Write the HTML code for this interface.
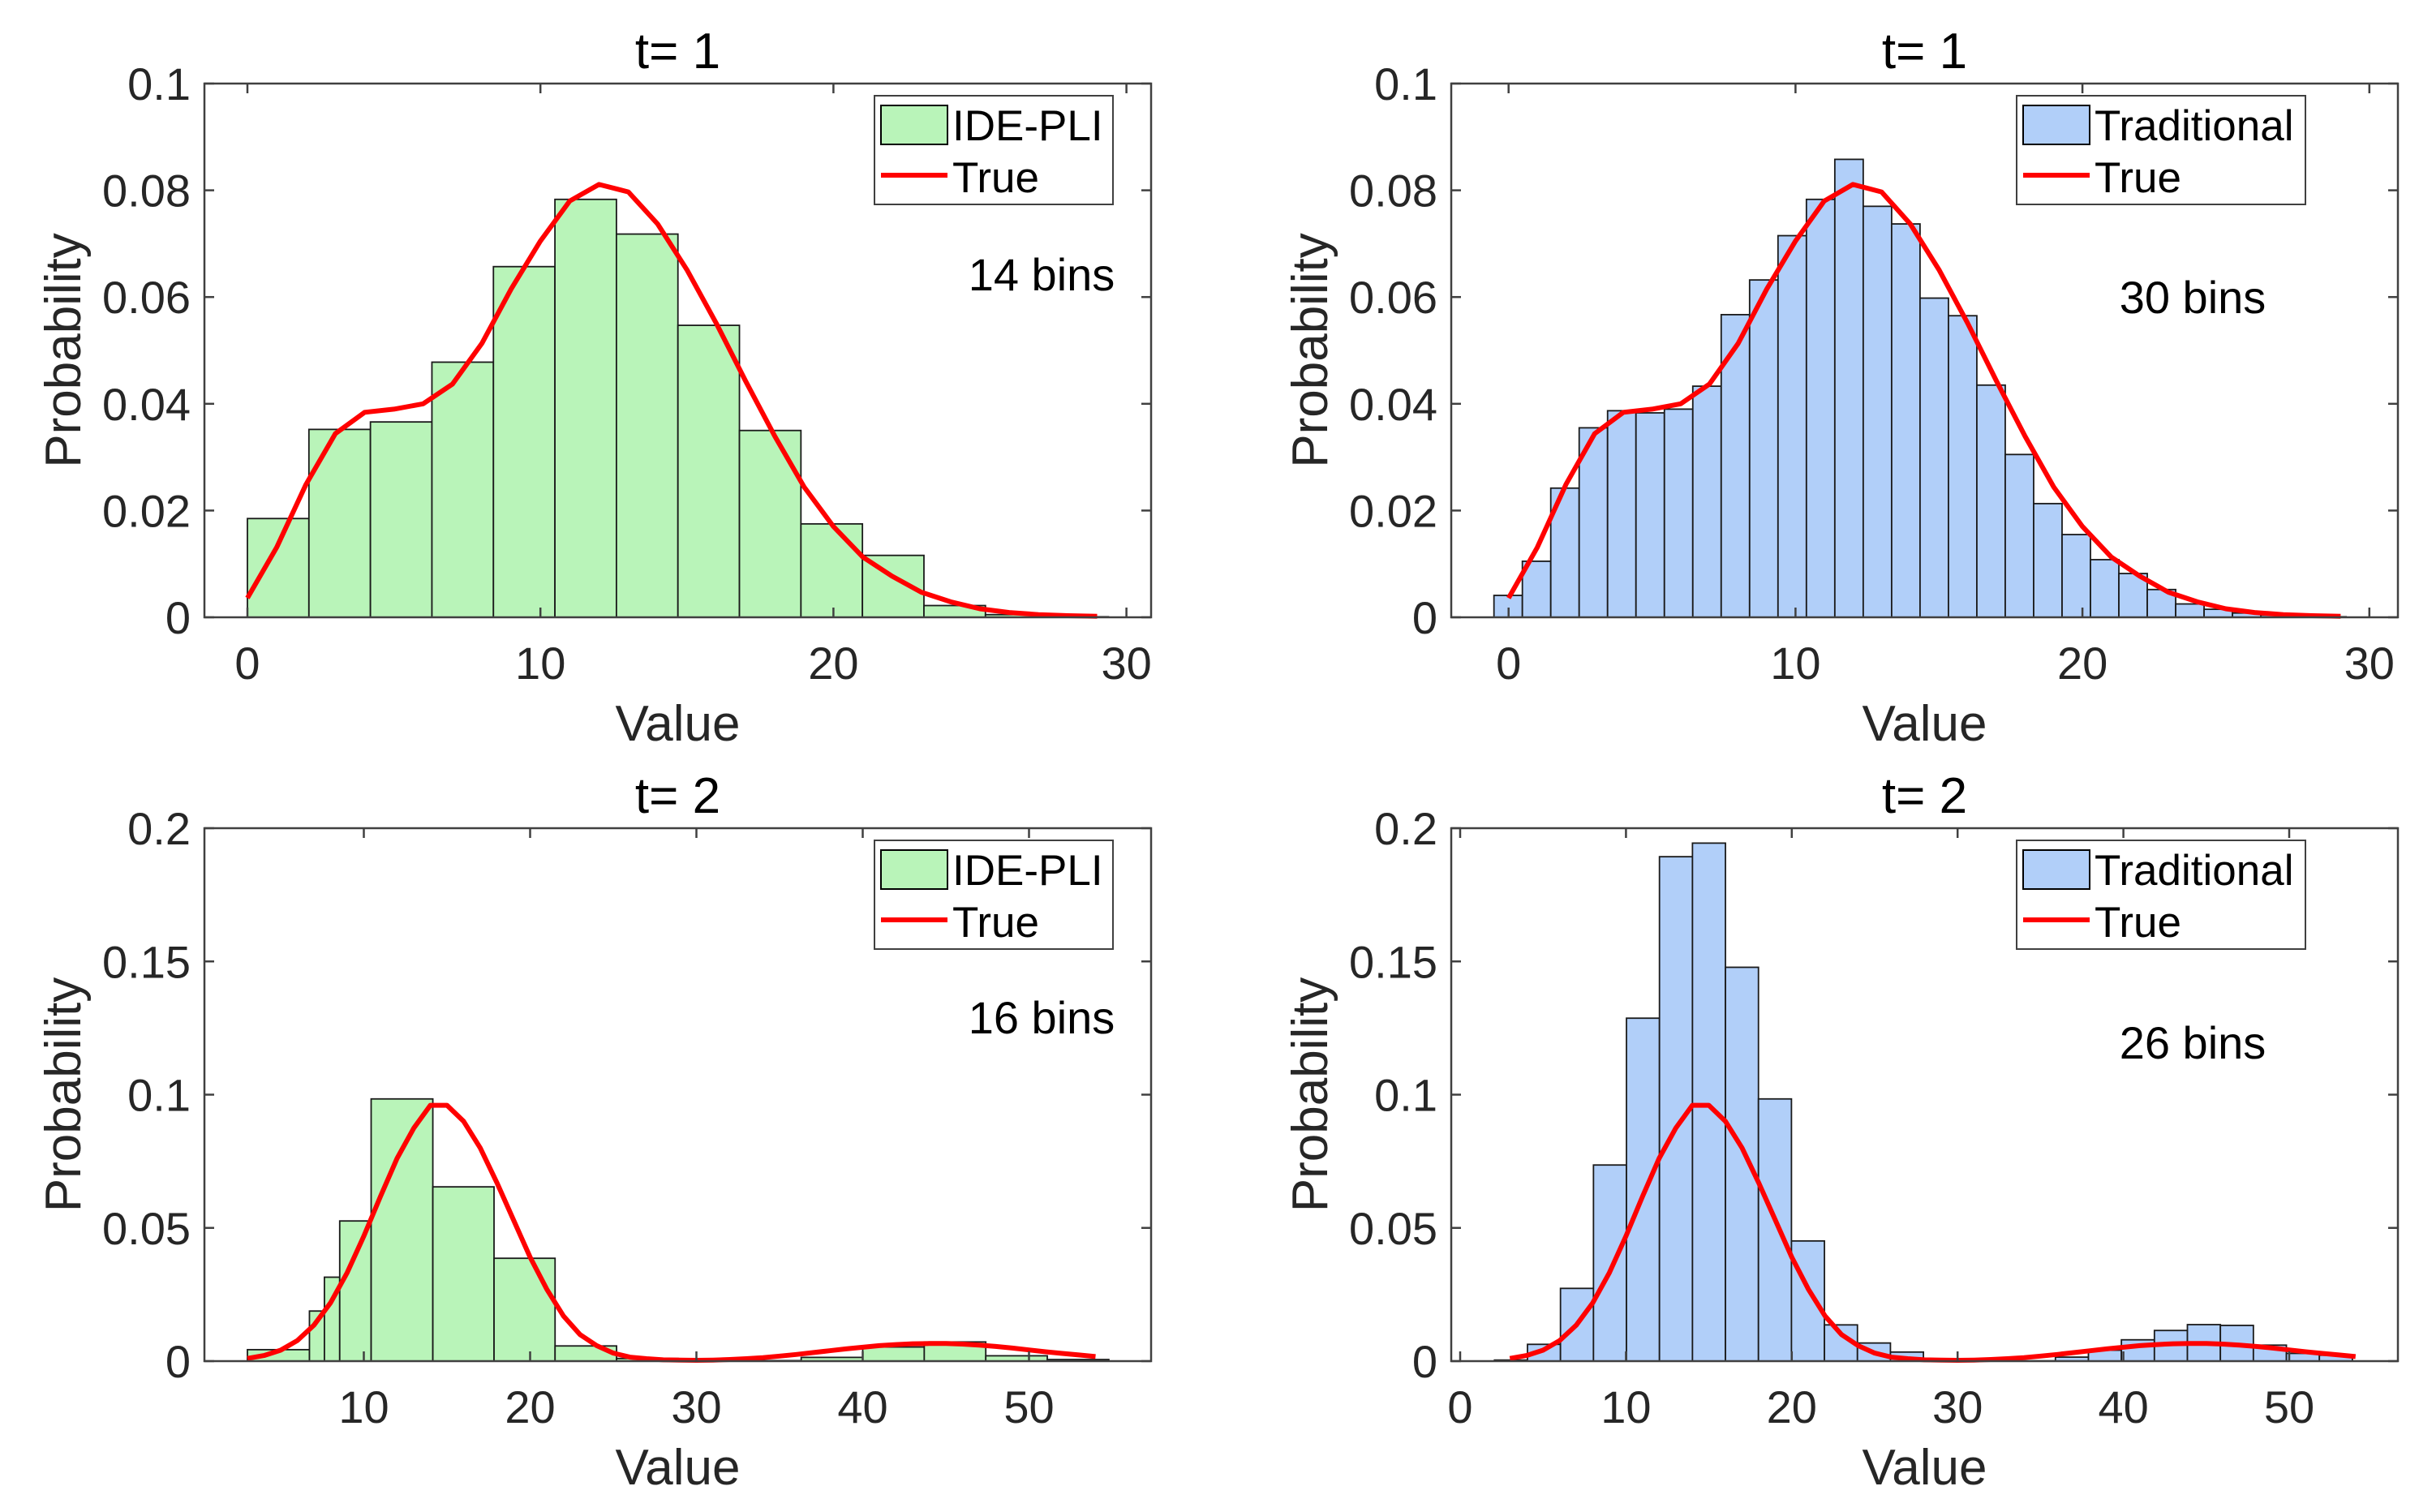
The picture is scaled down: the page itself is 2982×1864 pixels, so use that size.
<!DOCTYPE html>
<html>
<head>
<meta charset="utf-8">
<style>
html,body{margin:0;padding:0;background:#fff;}
svg{display:block;font-family:"Liberation Sans",Arial,sans-serif;}
</style>
</head>
<body>
<svg id="fig" width="2982" height="1864" viewBox="0 0 2982 1864" xmlns="http://www.w3.org/2000/svg"></svg>
<script>
// ---------- data ----------
const tlEdgeStart = 0, tlBinWidth = 2.099;
const tlHeights = [0.0185,0.0352,0.0366,0.0478,0.0657,0.0783,0.0718,0.0547,0.0350,0.0175,0.0116,0.0022,0.0005,0.0001];
const trEdgeStart = -0.51, trBinWidth = 0.99;
const trHeights = [0.0041,0.0105,0.0242,0.0355,0.0387,0.0383,0.0390,0.0433,0.0567,0.0632,0.0715,0.0783,0.0858,0.0770,0.0737,0.0598,0.0565,0.0435,0.0305,0.0213,0.0155,0.0108,0.0082,0.0052,0.0025,0.0015,0.0008,0.0004,0.0002,0.0001];
const blEdges = [3.0,6.73,7.63,8.55,10.44,14.15,17.83,21.5,25.2,28.9,32.6,36.3,40.0,43.7,47.4,51.1,54.8];
const blHeights = [0.0043,0.0188,0.0315,0.0526,0.0984,0.0654,0.0386,0.0057,0.0010,0.0003,0.0002,0.0014,0.0053,0.0072,0.0020,0.0006];
const brEdgeStart = 2.07, brBinWidth = 1.99;
const brHeights = [0.0004,0.0063,0.0273,0.0736,0.1287,0.1893,0.1944,0.1478,0.0984,0.0451,0.0136,0.0068,0.0034,0.0003,0.0001,0.0001,0.0001,0.0015,0.0041,0.0080,0.0115,0.0137,0.0134,0.0060,0.0029,0.0022];
const true1X = [0,1,2,3,4,5,6,7,8,9,10,11,12,13,14,15,16,17,18,19,20,21,22,23,24,25,26,27,28,29];
const true1Y = [0.0036,0.0131,0.0249,0.0344,0.0384,0.0390,0.0400,0.0437,0.0513,0.0615,0.0705,0.0780,0.0811,0.0797,0.0737,0.0651,0.0551,0.0443,0.0339,0.0244,0.0170,0.0113,0.0077,0.0047,0.0029,0.0016,0.0009,0.0005,0.0003,0.0002];
const true2X = [3,4,5,6,7,8,9,10,11,12,13,14,15,16,17,18,19,20,21,22,23,24,25,26,27,28,29,30,31,32,33,34,35,36,37,38,39,40,41,42,43,44,45,46,47,48,49,50,51,52,53,54];
const true2Y = [0.0010,0.0021,0.0041,0.0077,0.0135,0.0219,0.0332,0.0469,0.0618,0.0761,0.0874,0.0960,0.0960,0.0900,0.0800,0.0670,0.0530,0.0390,0.0270,0.0170,0.0100,0.0058,0.0030,0.0015,0.0009,0.0005,0.0004,0.0003,0.0004,0.0006,0.0009,0.0013,0.0019,0.0025,0.0032,0.0039,0.0046,0.0052,0.0058,0.0062,0.0065,0.0066,0.0066,0.0064,0.0060,0.0055,0.0049,0.0042,0.0035,0.0029,0.0023,0.0017];
const yTicks1 = [0,0.02,0.04,0.06,0.08,0.1];
const yTickLabels1 = ["0","0.02","0.04","0.06","0.08","0.1"];
const yTicks2 = [0,0.05,0.1,0.15,0.2];
const yTickLabels2 = ["0","0.05","0.1","0.15","0.2"];
const xTicksTop = [0,10,20,30];
const xTicksBL = [10,20,30,40,50];
const xTicksBR = [0,10,20,30,40,50];

const NS = "http://www.w3.org/2000/svg";
const svg = document.getElementById("fig");
function mk(tag, attrs, parent){
  const e = document.createElementNS(NS, tag);
  for (const k in attrs) e.setAttribute(k, attrs[k]);
  (parent||svg).appendChild(e);
  return e;
}
function edgesFrom(start, w, n){ const a=[]; for(let i=0;i<=n;i++) a.push(start+i*w); return a; }

function panel(cfg){
  const g = mk("g", {});
  
  
  const X = v => cfg.x0 + v*cfg.xs;
  const Y = v => cfg.B - v/cfg.ymax*(cfg.B-cfg.T);
  for (let i=0;i<cfg.heights.length;i++){
    const x1 = X(cfg.edges[i]), x2 = X(cfg.edges[i+1]);
    const r = mk("rect", {x:x1, y:Y(cfg.heights[i]), width:x2-x1, height:cfg.B-Y(cfg.heights[i]), fill:cfg.color, stroke:"#1a1a1a", "stroke-width":1.8}, g);
    
    
  }
  let d = "";
  for (let i=0;i<cfg.lx.length;i++) d += (i?"L":"M")+X(cfg.lx[i]).toFixed(1)+","+Y(cfg.ly[i]).toFixed(1);
  const p = mk("path", {d:d, fill:"none", stroke:"#ff0000", "stroke-width":6, "stroke-linejoin":"round"}, g);
  
  
  const box = mk("rect", {x:cfg.L, y:cfg.T, width:cfg.R-cfg.L, height:cfg.B-cfg.T, fill:"none", stroke:"#404040", "stroke-width":2.5}, g);
  
  
  cfg.xticks.forEach(v=>{
    const x = X(v);
    mk("line",{x1:x,y1:cfg.B,x2:x,y2:cfg.B-12,stroke:"#404040","stroke-width":2.5},g);
    mk("line",{x1:x,y1:cfg.T,x2:x,y2:cfg.T+12,stroke:"#404040","stroke-width":2.5},g);
    const t = mk("text",{x:x,y:cfg.B+76,"font-size":56,"text-anchor":"middle",fill:"#262626"},g);
    t.textContent = String(v);
    
    
  });
  cfg.yticks.forEach((v,i)=>{
    const y = Y(v);
    mk("line",{x1:cfg.L,y1:y,x2:cfg.L+12,y2:y,stroke:"#404040","stroke-width":2.5},g);
    mk("line",{x1:cfg.R,y1:y,x2:cfg.R-12,y2:y,stroke:"#404040","stroke-width":2.5},g);
    const t = mk("text",{x:cfg.L-17,y:y+20,"font-size":56,"text-anchor":"end",fill:"#262626"},g);
    t.textContent = cfg.ylabels[i];
    
    
  });
  const ti = mk("text",{x:(cfg.L+cfg.R)/2,y:cfg.T-19,"font-size":62,"text-anchor":"middle",fill:"#000"},g);
  ti.textContent = cfg.title;
  
  
  const xl = mk("text",{x:(cfg.L+cfg.R)/2,y:cfg.B+152,"font-size":62,"text-anchor":"middle",fill:"#262626"},g);
  xl.textContent = "Value";
  
  
  const cy = (cfg.T+cfg.B)/2, cx = cfg.L-153;
  const yl = mk("text",{x:cx,y:cy,"font-size":62,"text-anchor":"middle",fill:"#262626",transform:"rotate(-90 "+cx+" "+cy+")"},g);
  yl.textContent = "Probability";
  
  
  const lg = mk("g",{},g);
  
  
  const LX = cfg.legX, LY = cfg.T+15;
  mk("rect",{x:LX,y:LY,width:cfg.legW,height:134,fill:"#fff",stroke:"#404040","stroke-width":2},lg);
  mk("rect",{x:LX+8,y:LY+12,width:82,height:48,fill:cfg.color,stroke:"#000","stroke-width":2},lg);
  const lt1 = mk("text",{x:LX+96,y:LY+55,"font-size":53,fill:"#000"},lg);
  lt1.textContent = cfg.legName;
  
  
  mk("line",{x1:LX+8,y1:LY+98,x2:LX+90,y2:LY+98,stroke:"#ff0000","stroke-width":6},lg);
  const lt2 = mk("text",{x:LX+96,y:LY+119,"font-size":53,fill:"#000"},lg);
  lt2.textContent = "True";
  
  
  const an = mk("text",{x:cfg.annX,y:cfg.annY,"font-size":56,"text-anchor":"middle",fill:"#000"},g);
  an.textContent = cfg.ann;
  
  
}

const green = "#b9f4b9", blue = "#b1cff9";
panel({name:"panel-t1-ide-pli",L:252,R:1419,T:103,B:761,x0:305,xs:36.12,ymax:0.1,
  edges:edgesFrom(tlEdgeStart,tlBinWidth,tlHeights.length),heights:tlHeights,color:green,
  lx:true1X,ly:true1Y,xticks:xTicksTop,yticks:yTicks1,ylabels:yTickLabels1,title:"t= 1",
  legX:1078,legW:294,legName:"IDE-PLI",ann:"14 bins",annX:1284,annY:358});
panel({name:"panel-t1-traditional",L:1789,R:2956,T:103,B:761,x0:1859.7,xs:35.37,ymax:0.1,
  edges:edgesFrom(trEdgeStart,trBinWidth,trHeights.length),heights:trHeights,color:blue,
  lx:true1X,ly:true1Y,xticks:xTicksTop,yticks:yTicks1,ylabels:yTickLabels1,title:"t= 1",
  legX:2486,legW:356,legName:"Traditional",ann:"30 bins",annX:2703,annY:386});
panel({name:"panel-t2-ide-pli",L:252,R:1419,T:1021,B:1678,x0:243.5,xs:20.5,ymax:0.2,
  edges:blEdges,heights:blHeights,color:green,
  lx:true2X,ly:true2Y,xticks:xTicksBL,yticks:yTicks2,ylabels:yTickLabels2,title:"t= 2",
  legX:1078,legW:294,legName:"IDE-PLI",ann:"16 bins",annX:1284,annY:1274});
panel({name:"panel-t2-traditional",L:1789,R:2956,T:1021,B:1678,x0:1800,xs:20.44,ymax:0.2,
  edges:edgesFrom(brEdgeStart,brBinWidth,brHeights.length),heights:brHeights,color:blue,
  lx:true2X,ly:true2Y,xticks:xTicksBR,yticks:yTicks2,ylabels:yTickLabels2,title:"t= 2",
  legX:2486,legW:356,legName:"Traditional",ann:"26 bins",annX:2703,annY:1305});
</script>
</body>
</html>
